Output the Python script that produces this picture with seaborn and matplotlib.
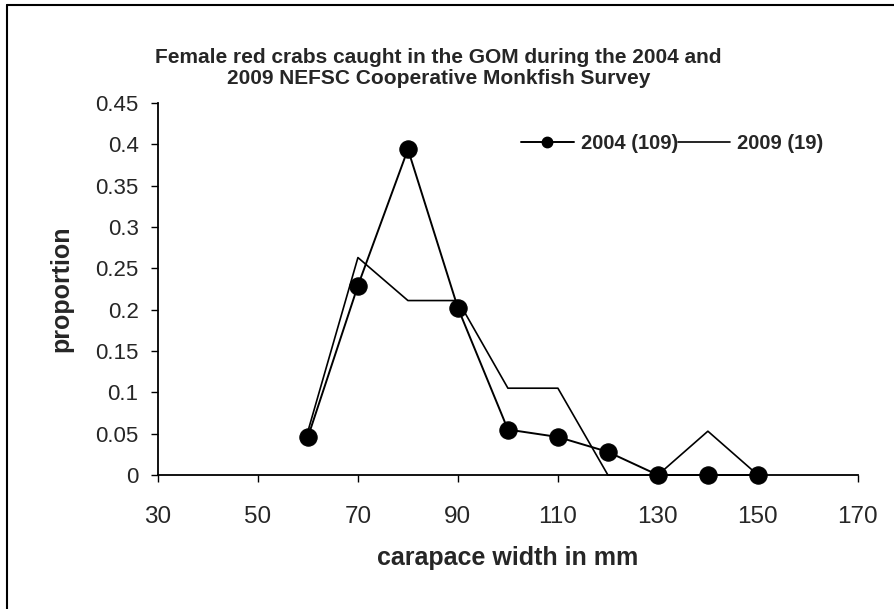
import numpy as np
import pandas as pd
import seaborn as sns
import matplotlib.pyplot as plt
from matplotlib.lines import Line2D

# carapace width bins (mm) and proportion of female red crabs per bin
width_mm = [60, 70, 80, 90, 100, 110, 120, 130, 140, 150]
prop_2004 = [0.046, 0.229, 0.394, 0.202, 0.055, 0.046, 0.028, 0.0, 0.0, 0.0]
prop_2009 = [0.053, 0.263, 0.211, 0.211, 0.105, 0.105, 0.0, 0.0, 0.053, 0.0]
label_2004 = '2004 (109)'
label_2009 = '2009 (19)'

x_ticks = [30, 50, 70, 90, 110, 130, 150, 170]
y_ticks = [0, 0.05, 0.1, 0.15, 0.2, 0.25, 0.3, 0.35, 0.4, 0.45]

df04 = pd.DataFrame({'width': width_mm, 'prop': prop_2004})
df09 = pd.DataFrame({'width': width_mm, 'prop': prop_2009})

sns.set_style('white')
plt.rcParams['font.family'] = ['Liberation Sans', 'DejaVu Sans']

fig = plt.figure(figsize=(8.95, 6.09), dpi=100)
ax = fig.add_axes([0.1765, 0.22, 0.782, 0.611])

sns.lineplot(data=df04, x='width', y='prop', ax=ax, color='black', lw=1.4,
             marker='o', markersize=12.5, markeredgecolor='black', clip_on=False,
             zorder=3)
sns.lineplot(data=df09, x='width', y='prop', ax=ax, color='black', lw=1.2,
             clip_on=False, zorder=2)

ax.set_xlim(30, 170)
ax.set_ylim(0, 0.45)
ax.set_xticks(x_ticks)
ax.set_yticks(y_ticks)
ax.set_yticklabels([f'{v:g}' for v in y_ticks])
ax.tick_params(axis='both', direction='out', length=5, width=1, color='black',
               left=True, bottom=True)
ax.tick_params(axis='y', labelsize=16, pad=9)
ax.tick_params(axis='x', labelsize=17.5, pad=17)
for s in ['top', 'right']:
    ax.spines[s].set_visible(False)
for s in ['left', 'bottom']:
    ax.spines[s].set_color('black')
    ax.spines[s].set_linewidth(1.3)

ax.set_xlabel('carapace width in mm', fontsize=18, fontweight='bold', labelpad=13)
ax.set_ylabel('proportion', fontsize=18, fontweight='bold', labelpad=16)

handles = [Line2D([], [], color='black', lw=1.4, marker='o', markersize=7.5),
           Line2D([], [], color='black', lw=1.2)]
ax.legend(handles, [label_2004, label_2009], ncol=2, frameon=False,
          loc='center', bbox_to_anchor=(0.735, 0.892), prop={'weight': 'bold', 'size': 14.5},
          handlelength=2.6, handletextpad=0.35, columnspacing=0.0)

fig.text(0.49, 0.888,
         'Female red crabs caught in the GOM during the 2004 and\n2009 NEFSC Cooperative Monkfish Survey',
         ha='center', va='center', fontsize=15, fontweight='bold', linespacing=1.1)

# outer chart-area border (left and top edges visible)
fig.add_artist(Line2D([0.008, 0.008], [0.0, 0.992], transform=fig.transFigure,
                      color='black', lw=1.5))
fig.add_artist(Line2D([0.008, 1.0], [0.992, 0.992], transform=fig.transFigure,
                      color='black', lw=1.5))

fig.savefig('out.png', dpi=100)
